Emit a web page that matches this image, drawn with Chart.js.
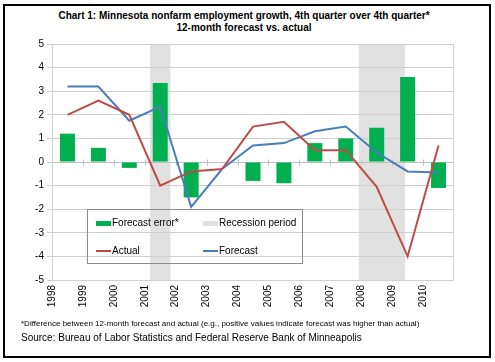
<!DOCTYPE html>
<html>
<head>
<meta charset="utf-8">
<script src="https://cdn.jsdelivr.net/npm/chart.js@4.4.0/dist/chart.umd.min.js"></script>
<style>
  html, body { margin: 0; padding: 0; background: #fff; }
  body { width: 495px; height: 362px; position: relative; overflow: hidden;
         font-family: "Liberation Sans", Arial, sans-serif; color: #000; }
  #frame { position: absolute; left: 3px; top: 4px; width: 484px; height: 350px; border: 2px solid #000; }
  #title { position: absolute; left: 0; top: 10px; width: 488px; text-align: center;
           font-weight: bold; font-size: 10px; line-height: 11.5px; }
  #chart { position: absolute; left: 0; top: 0; }
  #legend { position: absolute; left: 87px; top: 209px; width: 214px; height: 53px;
            border: 1px solid #8c8c8c; font-size: 10px; }
  #legend .sw { position: absolute; width: 15px; }
  #legend .lb { position: absolute; line-height: 12px; white-space: nowrap; }
  .note { position: absolute; left: 21px; white-space: nowrap; }
</style>
</head>
<body>
<div id="frame"></div>
<div id="title">Chart 1: Minnesota nonfarm employment growth, 4th quarter over 4th quarter*<br>12-month forecast vs. actual</div>
<canvas id="chart" width="495" height="362"></canvas>
<div id="legend">
  <div class="sw" style="left:8px; top:11px; height:5px; background:#00B050"></div>
  <div class="lb" style="left:24px; top:7px">Forecast error*</div>
  <div class="sw" style="left:115px; top:11px; height:5px; background:#E1E1E1"></div>
  <div class="lb" style="left:131px; top:7px">Recession period</div>
  <div class="sw" style="left:8px; top:40px; height:2px; background:#BE4B48"></div>
  <div class="lb" style="left:24px; top:35px">Actual</div>
  <div class="sw" style="left:115px; top:40px; height:2px; background:#4A7EBB"></div>
  <div class="lb" style="left:131px; top:35px">Forecast</div>
</div>
<div class="note" style="top:319px; font-size:8px; line-height:10px">*Difference between 12-month forecast and actual (e.g., positive values indicate forecast was higher than actual)</div>
<div class="note" style="top:332px; font-size:10px; line-height:12px">Source: Bureau of Labor Statistics and Federal Reserve Bank of Minneapolis</div>

<script>
// Chart data
const years = [1998, 1999, 2000, 2001, 2002, 2003, 2004, 2005, 2006, 2007, 2008, 2009, 2010];
const forecastError = [1.2, 0.6, -0.25, 3.35, -1.5, 0, -0.8, -0.9, 0.8, 1.0, 1.45, 3.6, -1.1];
const actual = [2.0, 2.6, 2.0, -1.0, -0.4, -0.3, 1.5, 1.7, 0.5, 0.5, -1.05, -4.0, 0.7];
const forecast = [3.2, 3.2, 1.75, 2.35, -1.9, -0.3, 0.7, 0.8, 1.3, 1.5, 0.4, -0.4, -0.45];
const recessionStart = [2001.17, 2007.92];
const recessionEnd = [2001.83, 2009.42];
const yTicks = { min: -5, max: 5, step: 1 };

document.addEventListener('DOMContentLoaded', function() {
    initializeChart();
});

function toPoints(values) {
    // values are annual, centred in their year
    return years.map((yr, i) => ({ x: yr + 0.5, y: values[i] }));
}

const recessionBands = {
    id: 'recessionBands',
    beforeDraw(chart) {
        const { ctx, chartArea: a, scales: { x } } = chart;
        ctx.save();
        ctx.fillStyle = '#E1E1E1';
        recessionStart.forEach((s, i) => {
            const x1 = x.getPixelForValue(s);
            const x2 = x.getPixelForValue(recessionEnd[i]);
            ctx.fillRect(x1, a.top, x2 - x1, a.bottom - a.top);
        });
        ctx.restore();
    }
};

const zeroAxis = {
    id: 'zeroAxis',
    beforeDatasetsDraw(chart) {
        const { ctx, chartArea: a, scales: { x, y } } = chart;
        const y0 = Math.round(y.getPixelForValue(0)) + 0.5;
        ctx.save();
        ctx.strokeStyle = '#BFBFBF';
        ctx.lineWidth = 1;
        ctx.beginPath();
        ctx.moveTo(a.left, y0);
        ctx.lineTo(a.right, y0);
        x.ticks.forEach(t => {
            if (t.value <= x.min || t.value >= x.max) return;
            const px = Math.round(x.getPixelForValue(t.value)) + 0.5;
            ctx.moveTo(px, y0 - 3);
            ctx.lineTo(px, y0 + 3);
        });
        ctx.stroke();
        ctx.strokeStyle = '#D0D0D0';
        ctx.strokeRect(a.left + 0.5, a.top + 0.5, a.right - a.left - 1, a.bottom - a.top);
        ctx.restore();
    }
};

function initializeChart() {
    const ctx = document.getElementById('chart');
    new Chart(ctx, {
        type: 'bar',
        data: {
            datasets: [
                {
                    type: 'line',
                    label: 'Actual',
                    data: toPoints(actual),
                    borderColor: '#BE4B48',
                    borderWidth: 2,
                    pointRadius: 0,
                    tension: 0,
                    order: 1
                },
                {
                    type: 'line',
                    label: 'Forecast',
                    data: toPoints(forecast),
                    borderColor: '#4A7EBB',
                    borderWidth: 2,
                    pointRadius: 0,
                    tension: 0,
                    order: 1
                },
                {
                    type: 'bar',
                    label: 'Forecast error*',
                    data: toPoints(forecastError),
                    backgroundColor: '#00B050',
                    barThickness: 15,
                    inflateAmount: 0,
                    order: 2
                }
            ]
        },
        options: {
            responsive: false,
            animation: false,
            devicePixelRatio: 1,
            layout: { padding: { left: 22, right: 41, top: 44, bottom: 42 } },
            plugins: {
                legend: { display: false },
                tooltip: { enabled: false }
            },
            scales: {
                x: {
                    type: 'linear',
                    min: years[0],
                    max: years[years.length - 1] + 1,
                    offset: false,
                    grid: { display: false, drawTicks: false, offset: false },
                    border: { display: false },
                    ticks: {
                        stepSize: 1,
                        autoSkip: false,
                        minRotation: 90,
                        maxRotation: 90,
                        padding: 5,
                        color: '#000',
                        font: { family: 'Liberation Sans', size: 10 },
                        callback: v => (v < years[years.length - 1] + 1 ? String(v) : '')
                    },
                    afterFit: scale => { scale.height = 40; }
                },
                y: {
                    min: yTicks.min,
                    max: yTicks.max,
                    grid: { color: '#CFCFCF', tickLength: 5 },
                    border: { display: true, color: '#BFBFBF' },
                    ticks: {
                        stepSize: yTicks.step,
                        padding: 3,
                        color: '#000',
                        font: { family: 'Liberation Sans', size: 10 }
                    },
                    afterFit: scale => { scale.width = 30; }
                }
            }
        },
        plugins: [recessionBands, zeroAxis]
    });
}
</script>
</body>
</html>
